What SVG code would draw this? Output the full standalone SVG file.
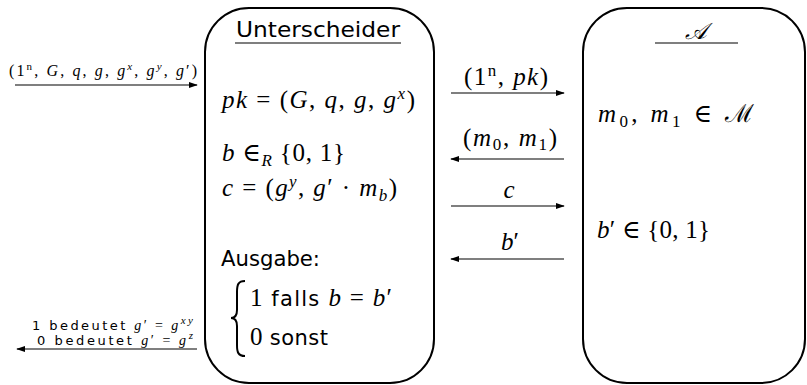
<svg xmlns="http://www.w3.org/2000/svg" width="807" height="385" viewBox="0 0 807 385">
<defs>
<marker id="ah" viewBox="0 0 10 10" refX="9" refY="5" markerWidth="9" markerHeight="9" markerUnits="userSpaceOnUse" orient="auto">
<path d="M0,1.5 L10,5 L0,8.5 Z" fill="#000"/>
</marker>
<style>
.box{fill:none;stroke:#000;stroke-width:2}
.ln{stroke:#000;stroke-width:1.2;fill:none}
.m{font-family:"Liberation Serif","DejaVu Serif",serif;font-size:25px;fill:#000}
.i{font-style:italic}
.s{font-family:"DejaVu Sans","Liberation Sans",sans-serif;fill:#000}
.sm{font-family:"Liberation Serif",serif;font-size:16px;fill:#000}
.sup{font-size:17px}
.sup2{font-size:11px}
</style>
</defs>
<g id="connectors">
<line class="ln" x1="15" y1="85" x2="197" y2="85" marker-end="url(#ah)"/>
<line class="ln" x1="197" y1="349" x2="17" y2="349" marker-end="url(#ah)"/>
<line class="ln" x1="451" y1="93" x2="564" y2="93" marker-end="url(#ah)"/>
<line class="ln" x1="564" y1="159" x2="451" y2="159" marker-end="url(#ah)"/>
<line class="ln" x1="451" y1="206" x2="564" y2="206" marker-end="url(#ah)"/>
<line class="ln" x1="564" y1="259" x2="451" y2="259" marker-end="url(#ah)"/>
<text class="sm" x="9" y="76" textLength="188" lengthAdjust="spacing"><tspan>(1</tspan><tspan class="sup2" dy="-6">n</tspan><tspan dy="6">, </tspan><tspan class="i">G</tspan><tspan>, </tspan><tspan class="i">q</tspan><tspan>, </tspan><tspan class="i">g</tspan><tspan>, </tspan><tspan class="i">g</tspan><tspan class="sup2 i" dy="-6">x</tspan><tspan dy="6">, </tspan><tspan class="i">g</tspan><tspan class="sup2 i" dy="-6">y</tspan><tspan dy="6">, </tspan><tspan class="i">g</tspan><tspan>′)</tspan></text>
<text x="32" y="330" style="font-size:13px" textLength="161" lengthAdjust="spacing"><tspan class="s">1 bedeutet </tspan><tspan class="sm i" style="font-size:14px">g</tspan><tspan class="sm" style="font-size:14px">′ = </tspan><tspan class="sm i" style="font-size:14px">g</tspan><tspan class="sm i" style="font-size:11px" dy="-6">xy</tspan></text>
<text x="37" y="345" style="font-size:13px" textLength="156" lengthAdjust="spacing"><tspan class="s">0 bedeutet </tspan><tspan class="sm i" style="font-size:14px">g</tspan><tspan class="sm" style="font-size:14px">′ = </tspan><tspan class="sm i" style="font-size:14px">g</tspan><tspan class="sm i" style="font-size:11px" dy="-6">z</tspan></text>
<text class="m" x="506" y="85" text-anchor="middle" textLength="84" lengthAdjust="spacing"><tspan>(1</tspan><tspan class="sup" dy="-9">n</tspan><tspan dy="9">, </tspan><tspan class="i">pk</tspan><tspan>)</tspan></text>
<text class="m" x="510" y="146" text-anchor="middle" textLength="94" lengthAdjust="spacing"><tspan>(</tspan><tspan class="i">m</tspan><tspan class="sup" dy="4">0</tspan><tspan dy="-4">, </tspan><tspan class="i">m</tspan><tspan class="sup" dy="4">1</tspan><tspan dy="-4">)</tspan></text>
<text class="m i" x="509" y="198" text-anchor="middle">c</text>
<text class="m" x="510" y="250" text-anchor="middle"><tspan class="i">b</tspan><tspan>′</tspan></text>
</g>
<g id="unterscheider">
<rect class="box" x="205" y="8" width="229" height="375" rx="44" ry="44"/>
<text class="s" x="318" y="37" text-anchor="middle" style="font-size:22px" textLength="164" lengthAdjust="spacingAndGlyphs">Unterscheider</text>
<line x1="235" y1="43" x2="401" y2="43" stroke="#000" stroke-width="1.2"/>
<text class="m" x="222" y="108" textLength="193" lengthAdjust="spacing"><tspan class="i">pk</tspan><tspan> = (</tspan><tspan class="i">G</tspan><tspan>, </tspan><tspan class="i">q</tspan><tspan>, </tspan><tspan class="i">g</tspan><tspan>, </tspan><tspan class="i">g</tspan><tspan class="sup i" dy="-9">x</tspan><tspan dy="9">)</tspan></text>
<text class="m" x="222" y="161" textLength="123" lengthAdjust="spacing"><tspan class="i">b</tspan><tspan> ∈</tspan><tspan class="sup i" dy="5">R</tspan><tspan dy="-5"> {0, 1}</tspan></text>
<text class="m" x="222" y="196" textLength="175" lengthAdjust="spacing"><tspan class="i">c</tspan><tspan> = (</tspan><tspan class="i">g</tspan><tspan class="sup i" dy="-9">y</tspan><tspan dy="9">, </tspan><tspan class="i">g</tspan><tspan>′ · </tspan><tspan class="i">m</tspan><tspan class="sup i" dy="5">b</tspan><tspan dy="-5">)</tspan></text>
<text class="s" x="221" y="266" style="font-size:21px" textLength="99" lengthAdjust="spacingAndGlyphs">Ausgabe:</text>
<path d="M245,281 C238,281 237,285 237,292 L237,310 C237,316 235,318 231,318 C235,318 237,320 237,326 L237,345 C237,352 238,356 245,356" fill="none" stroke="#000" stroke-width="2"/>
<text x="250" y="306" textLength="142" lengthAdjust="spacing"><tspan class="m">1 </tspan><tspan class="s" style="font-size:21px">falls </tspan><tspan class="m i">b</tspan><tspan class="m"> = </tspan><tspan class="m i">b</tspan><tspan class="m">′</tspan></text>
<text x="250" y="345" textLength="78" lengthAdjust="spacing"><tspan class="m">0 </tspan><tspan class="s" style="font-size:21px">sonst</tspan></text>
</g>
<g id="adversary">
<rect class="box" x="583" y="8" width="222" height="375" rx="44" ry="44"/>
<text x="696" y="39" text-anchor="middle" style="font-family:'DejaVu Serif',serif;font-style:italic;font-size:23px">𝒜</text>
<line x1="655" y1="43" x2="738" y2="43" stroke="#000" stroke-width="1.2"/>
<text class="m" x="598" y="122" textLength="156" lengthAdjust="spacing"><tspan class="i">m</tspan><tspan class="sup" dy="5">0</tspan><tspan dy="-5">, </tspan><tspan class="i">m</tspan><tspan class="sup" dy="5">1</tspan><tspan dy="-5">  ∈ </tspan><tspan style="font-family:'DejaVu Serif',serif">ℳ</tspan></text>
<text class="m" x="597" y="238" textLength="113" lengthAdjust="spacing"><tspan class="i">b</tspan><tspan>′ ∈ {0, 1}</tspan></text>
</g>
</svg>
